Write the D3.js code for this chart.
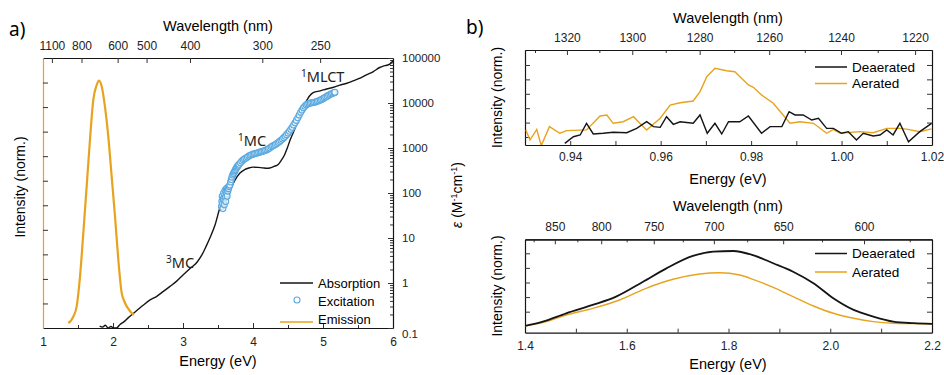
<!DOCTYPE html>
<html>
<head>
<meta charset="utf-8">
<script src="https://cdn.jsdelivr.net/npm/d3@7"></script>
<style>
    body { margin: 0; background: #fff; }
    svg { display: block; font-family: "Liberation Sans", Arial, sans-serif; }
    .tick text { fill: #222; }
    .note { font-family: "Noto Sans", sans-serif; font-size: 14.5px; fill: #222; }
</style>
</head>
<body>
<svg id="chart" width="944" height="375"></svg>
<script>
// hc in eV*nm, to convert wavelength ticks to energy
const HC = 1239.84;

// Panel a: absorption (log scale, M-1 cm-1)
const absE   = [1.81, 1.85, 1.89, 1.93, 1.97, 2.01, 2.05, 2.10, 2.15, 2.22, 2.29, 2.36, 2.43, 2.53, 2.62, 2.72, 2.81, 2.91, 3.00, 3.10,
                3.20, 3.27, 3.33, 3.39, 3.46, 3.53, 3.60, 3.67, 3.74, 3.81, 3.88, 3.94, 4.00, 4.07, 4.14, 4.20, 4.24, 4.30, 4.36, 4.40,
                4.45, 4.49, 4.53, 4.58, 4.63, 4.68, 4.72, 4.77, 4.81, 4.86, 4.96, 5.05, 5.15, 5.24, 5.34, 5.43, 5.53, 5.62, 5.72, 5.81,
                5.86, 5.91, 5.96, 5.98, 6.00];
const absEps = [0.11, 0.105, 0.115, 0.1, 0.108, 0.1, 0.1, 0.12, 0.135, 0.17, 0.21, 0.26, 0.32, 0.42, 0.5, 0.65, 0.83, 1.1, 1.5, 2.1,
                2.9, 4.2, 6.5, 10.5, 20, 48, 80, 115, 190, 275, 330, 360, 375, 372, 362, 355, 360, 390, 430, 520,
                700, 1000, 1500, 2300, 3600, 5800, 8500, 11600, 14500, 17000, 18600, 20500, 22400, 25000, 27500, 31000, 35600, 42000, 50000, 61500,
                66000, 69000, 74000, 80000, 88000];

// Panel a: excitation spectrum (same log scale)
const excE   = [3.55, 3.555, 3.56, 3.565, 3.57, 3.575, 3.58, 3.585, 3.59, 3.595, 3.60, 3.605, 3.61, 3.615, 3.62, 3.625, 3.63, 3.635, 3.64, 3.645,
                3.65, 3.66, 3.67, 3.68, 3.69, 3.70, 3.71, 3.72, 3.73, 3.74, 3.75, 3.76, 3.77, 3.78, 3.79, 3.80, 3.82, 3.84, 3.86, 3.88,
                3.90, 3.92, 3.94, 3.96, 3.98, 4.00, 4.02, 4.04, 4.06, 4.08, 4.10, 4.12, 4.14, 4.16, 4.18, 4.20, 4.22, 4.24, 4.26, 4.28,
                4.30, 4.32, 4.34, 4.36, 4.38, 4.40, 4.42, 4.44, 4.46, 4.48, 4.50, 4.52, 4.54, 4.56, 4.58, 4.60, 4.62, 4.64, 4.66, 4.68,
                4.70, 4.72, 4.74, 4.76, 4.78, 4.80, 4.82, 4.84, 4.86, 4.88, 4.90, 4.92, 4.94, 4.96, 4.98, 5.00, 5.02, 5.04, 5.06, 5.08,
                5.10, 5.12, 5.14, 5.16, 5.17];
const excVal = [50, 65, 85, 58, 45, 75, 100, 70, 55, 90, 115, 80, 65, 105, 125, 95, 85, 120, 110, 135,
                125, 140, 150, 175, 200, 225, 250, 270, 290, 310, 330, 355, 375, 395, 415, 435, 470, 510, 545, 575,
                600, 630, 660, 690, 710, 730, 745, 760, 775, 790, 810, 830, 850, 870, 890, 920, 960, 1000, 1070, 1110,
                1150, 1200, 1260, 1330, 1400, 1480, 1580, 1700, 1830, 1980, 2150, 2350, 2600, 2900, 3250, 3650, 4100, 4700, 5400, 6200,
                7000, 7800, 8500, 9100, 9500, 9800, 10000, 10100, 10200, 10400, 10600, 10900, 11200, 11600, 12000, 12500, 13000, 13600, 14200, 14800,
                15400, 16000, 16500, 17000, 17300];

// Panel a: emission (normalised)
const emE = [1.361, 1.40, 1.433, 1.481, 1.529, 1.576, 1.624, 1.671, 1.719, 1.767, 1.80, 1.839, 1.886, 1.933, 1.981, 2.029, 2.076, 2.124, 2.16, 2.196, 2.235, 2.267, 2.30];
const emI = [0.02, 0.03, 0.047, 0.088, 0.21, 0.387, 0.577, 0.767, 0.93, 0.99, 1.008, 0.984, 0.90, 0.78, 0.617, 0.454, 0.278, 0.143, 0.11, 0.088, 0.072, 0.061, 0.054];

// Panel b top: singlet oxygen region
const nirDeaerE = [0.9388, 0.9407, 0.9422, 0.9436, 0.9451, 0.9473, 0.9495, 0.9525, 0.9547, 0.9569, 0.9584, 0.9599, 0.9613, 0.9628, 0.9643,
                   0.9672, 0.9687, 0.9703, 0.972, 0.9735, 0.975, 0.9775, 0.9794, 0.9823, 0.9842, 0.9868, 0.9884, 0.9897, 0.9915, 0.9934,
                   0.9949, 0.9967, 0.9982, 1.0000, 1.0015, 1.0033, 1.0048, 1.0070, 1.0085, 1.0100, 1.0114, 1.0129, 1.0148, 1.0173, 1.0199];
const nirDeaerI = [-0.44, 0.02, 0.14, 0.95, 0.21, 0.26, 0.33, 0.30, 0.60, 1.06, 0.72, 0.67, 1.41, 0.88, 1.06,
                   0.95, 1.53, 0.26, 0.95, 0.21, 1.06, 1.06, 1.46, 0.26, 0.72, 0.72, 1.76, 1.53, 1.53, 1.18,
                   1.30, 0.60, 0.60, 0.26, 0.37, -0.21, 0.26, 0.07, 0.14, 0.49, 0.14, 0.95, -0.33, 0.37, 0.95];
const nirAerE = [0.9302, 0.9311, 0.9326, 0.9336, 0.9354, 0.9377, 0.9392, 0.9436, 0.9466, 0.9481, 0.9495, 0.9517, 0.954, 0.9554, 0.9569,
                 0.9599, 0.9621, 0.9643, 0.9672, 0.9687, 0.9702, 0.972, 0.9746, 0.9764, 0.9794, 0.9805, 0.9823, 0.9849, 0.9886, 0.9908,
                 0.9938, 0.9967, 0.9982, 0.9997, 1.0041, 1.0070, 1.0100, 1.0129, 1.0147, 1.0173, 1.0199];
const nirAerI = [0.49, -0.21, 0.53, -0.6, 0.72, 0.26, 0.44, 0.49, 1.46, 1.53, 0.95, 1.06, 1.41, 0.95, 0.49,
                 1.30, 2.22, 2.38, 2.50, 3.15, 4.19, 4.77, 4.60, 4.53, 3.61, 3.45, 2.92, 2.34, 0.95, 1.06,
                 0.95, 0.26, 0.53, 0.26, 0.37, 0.30, 0.60, 0.60, 0.53, 0.37, 0.56];

// Panel b bottom: phosphorescence
const visDeaerE = [1.40, 1.435, 1.481, 1.533, 1.579, 1.632, 1.678, 1.730, 1.770, 1.809, 1.848, 1.888, 1.927, 1.967, 2.006, 2.046, 2.085, 2.124, 2.164, 2.20];
const visDeaerI = [0.02, 0.32, 0.89, 1.46, 2.03, 3.05, 3.97, 4.82, 5.11, 5.16, 4.88, 4.32, 3.74, 2.95, 1.92, 1.12, 0.66, 0.32, 0.21, 0.16];
const visAerE = [1.40, 1.435, 1.481, 1.533, 1.586, 1.638, 1.691, 1.743, 1.783, 1.822, 1.848, 1.888, 1.927, 1.967, 2.006, 2.046, 2.085, 2.124, 2.164, 2.20];
const visAerI = [0.02, 0.25, 0.77, 1.23, 1.80, 2.60, 3.22, 3.58, 3.67, 3.51, 3.22, 2.67, 2.03, 1.39, 0.89, 0.55, 0.32, 0.21, 0.18, 0.16];

// tick labels
const wlTopA = [1100, 800, 600, 500, 400, 300, 250];
const epsTicks = [0.1, 1, 10, 100, 1000, 10000, 100000];
const wlNir = [1320, 1300, 1280, 1260, 1240, 1220];
const wlNirMinor = [1330, 1310, 1290, 1270, 1250, 1230];
const wlVis = [850, 800, 750, 700, 650, 600];
const wlVisMinor = [875, 825, 775, 725, 675, 625, 575];

const ORANGE = "#E8A31E";
const BLUE = "#5AA9E0";
const INK = "#151515";

const svg = d3.select("#chart");

function styleAxis(g, color) {
    g.select(".domain").attr("stroke", color || INK).attr("stroke-width", 1.2);
    g.selectAll(".tick line").attr("stroke", "#333");
    g.selectAll(".tick text").style("font-size", "12px");
    return g;
}

function addClip(id, x0, y0, x1, y1) {
    svg.append("clipPath").attr("id", id)
        .append("rect").attr("x", x0).attr("y", y0).attr("width", x1 - x0).attr("height", y1 - y0);
}

// ---------------- Panel a ----------------
const xA = d3.scaleLinear().domain([1, 6]).range([43, 393]);
const yEm = d3.scaleLinear().domain([0, 1.1]).range([328, 58]);
const yEps = d3.scaleLog().domain([0.1, 100000]).range([328, 58]);
addClip("clipA", 43, 58, 393, 328);

// bottom axis: energy
svg.append("g").attr("transform", "translate(0,328)")
    .call(d3.axisBottom(xA).tickValues(d3.range(1.5, 6, 1)).tickSize(-3).tickFormat(""))
    .call(g => g.select(".domain").remove())
    .selectAll(".tick line").attr("stroke", "#333");
styleAxis(svg.append("g").attr("transform", "translate(0,328)")
    .call(d3.axisBottom(xA).ticks(5).tickSize(-5).tickSizeOuter(0).tickPadding(9).tickFormat(d3.format("d"))));

// top axis: wavelength
styleAxis(svg.append("g").attr("transform", "translate(0,58)")
    .call(d3.axisTop(xA).tickValues(wlTopA.map(w => HC / w)).tickSize(-5).tickSizeOuter(0).tickPadding(8)
        .tickFormat((d, i) => wlTopA[i])));

// right axis: epsilon (log)
const epsMinor = [];
epsTicks.slice(0, -1).forEach(p => { for (let k = 2; k <= 9; k++) epsMinor.push(p * k); });
svg.append("g").attr("transform", "translate(393,0)")
    .call(d3.axisRight(yEps).tickValues(epsMinor).tickSize(-3).tickFormat(""))
    .call(g => g.select(".domain").remove())
    .selectAll(".tick line").attr("stroke", "#333");
const rightA = styleAxis(svg.append("g").attr("transform", "translate(393,0)")
    .call(d3.axisRight(yEps).tickValues(epsTicks).tickSize(-5).tickSizeOuter(0).tickPadding(9)
        .tickFormat(d => d < 1 ? "0.1" : d3.format("d")(d))));
rightA.selectAll(".tick text").style("font-size", "11.5px")
    .attr("dy", d => d < 1 ? "0.85em" : "0.32em");

// left axis: intensity, orange, no labels
styleAxis(svg.append("g").attr("transform", "translate(43,0)")
    .call(d3.axisLeft(yEm).tickValues(d3.range(0.1, 1.05, 0.1)).tickSize(-5).tickSizeOuter(0).tickFormat("")), ORANGE);

const plotA = svg.append("g").attr("clip-path", "url(#clipA)");
plotA.append("path")
    .datum(d3.zip(absE, absEps))
    .attr("fill", "none").attr("stroke", INK).attr("stroke-width", 1.4)
    .attr("d", d3.line().x(d => xA(d[0])).y(d => yEps(d[1])).curve(d3.curveMonotoneX));
plotA.append("path")
    .datum(d3.zip(emE, emI))
    .attr("fill", "none").attr("stroke", ORANGE).attr("stroke-width", 2.2)
    .attr("d", d3.line().x(d => xA(d[0])).y(d => yEm(d[1])).curve(d3.curveMonotoneX));
plotA.selectAll("circle.exc")
    .data(d3.zip(excE, excVal))
    .join("circle").attr("class", "exc")
    .attr("cx", d => xA(d[0])).attr("cy", d => yEps(d[1])).attr("r", 3)
    .attr("fill", "#fff").attr("fill-opacity", 0.6).attr("stroke", BLUE).attr("stroke-width", 1.1);

// annotations
function note(x, y, sup, main) {
    const t = svg.append("text").attr("class", "note").attr("x", x).attr("y", y);
    t.append("tspan").text(sup).style("font-size", "10px").attr("dy", -5);
    t.append("tspan").text(main).attr("dy", 5);
}
note(166, 268, "3", "MC");
note(238, 146, "1", "MC");
note(301, 82, "1", "MLCT");

// legend a
const legA = svg.append("g").style("font-size", "13px");
legA.append("line").attr("x1", 280).attr("x2", 313).attr("y1", 283).attr("y2", 283).attr("stroke", INK).attr("stroke-width", 1.5);
legA.append("text").attr("x", 318).attr("y", 283).attr("dy", "0.35em").text("Absorption");
legA.append("circle").attr("cx", 297).attr("cy", 300).attr("r", 3).attr("fill", "#fff").attr("stroke", BLUE).attr("stroke-width", 1.1);
legA.append("text").attr("x", 318).attr("y", 301).attr("dy", "0.35em").text("Excitation");
legA.append("line").attr("x1", 280).attr("x2", 313).attr("y1", 322).attr("y2", 322).attr("stroke", ORANGE).attr("stroke-width", 1.5);
legA.append("text").attr("x", 318).attr("y", 319).attr("dy", "0.35em").text("Emission");

// titles a
svg.append("text").attr("x", 218).attr("y", 31).attr("text-anchor", "middle").style("font-size", "14.5px").text("Wavelength (nm)");
svg.append("text").attr("x", 218).attr("y", 366).attr("text-anchor", "middle").style("font-size", "14.5px").text("Energy (eV)");
svg.append("text").attr("transform", "translate(25,187) rotate(-90)").attr("text-anchor", "middle").style("font-size", "14px").text("Intensity (norm.)");
const epsLab = svg.append("text").attr("transform", "translate(462,195) rotate(-90)").attr("text-anchor", "middle").style("font-size", "14px");
epsLab.append("tspan").text("ε").style("font-style", "italic");
epsLab.append("tspan").text(" (M");
epsLab.append("tspan").text("-1").style("font-size", "9px").attr("dy", -5);
epsLab.append("tspan").text("cm").attr("dy", 5);
epsLab.append("tspan").text("-1").style("font-size", "9px").attr("dy", -5);
epsLab.append("tspan").text(")").attr("dy", 5);
svg.append("text").attr("x", 9).attr("y", 36).style("font-family", "Noto Sans, sans-serif").style("font-size", "19px").text("a)");
svg.append("text").attr("x", 466).attr("y", 34).style("font-family", "Noto Sans, sans-serif").style("font-size", "19px").text("b)");

// ---------------- Panel b ----------------
function panelB(cfg) {
    const x = d3.scaleLinear().domain(cfg.xDomain).range([525, 932]);
    const y = d3.scaleLinear().domain(cfg.yDomain).range([cfg.bottom, cfg.top]);
    addClip(cfg.id, 525, cfg.top, 932, cfg.bottom);

    styleAxis(svg.append("g").attr("transform", `translate(0,${cfg.bottom})`)
        .call(d3.axisBottom(x).tickValues(cfg.xTicks).tickSize(-4).tickSizeOuter(0).tickPadding(cfg.padBottom)
            .tickFormat(d => cfg.xLabels.some(v => Math.abs(v - d) < 1e-9) ? cfg.fmt(d) : "")));
    styleAxis(svg.append("g").attr("transform", `translate(0,${cfg.top})`)
        .call(d3.axisTop(x).tickValues(cfg.wlMinor.map(w => HC / w)).tickSize(-3).tickSizeOuter(0).tickFormat("")));
    styleAxis(svg.append("g").attr("transform", `translate(0,${cfg.top})`)
        .call(d3.axisTop(x).tickValues(cfg.wl.map(w => HC / w)).tickSize(-5).tickSizeOuter(0).tickPadding(8)
            .tickFormat((d, i) => cfg.wl[i])));
    styleAxis(svg.append("g").attr("transform", "translate(525,0)")
        .call(d3.axisLeft(y).tickValues(cfg.yTicks).tickSize(-5).tickSizeOuter(0).tickFormat("")));
    styleAxis(svg.append("g").attr("transform", "translate(932,0)")
        .call(d3.axisRight(y).tickValues(cfg.yTicks).tickSize(-5).tickSizeOuter(0).tickFormat("")));

    const line = d3.line().x(d => x(d[0])).y(d => y(d[1]));
    const plot = svg.append("g").attr("clip-path", `url(#${cfg.id})`);
    plot.append("path").datum(d3.zip(cfg.aerE, cfg.aerI))
        .attr("fill", "none").attr("stroke", ORANGE).attr("stroke-width", 1.4)
        .attr("d", cfg.smooth ? line.curve(d3.curveMonotoneX) : line);
    plot.append("path").datum(d3.zip(cfg.deaE, cfg.deaI))
        .attr("fill", "none").attr("stroke", INK).attr("stroke-width", cfg.smooth ? 1.8 : 1.4)
        .attr("d", cfg.smooth ? line.curve(d3.curveMonotoneX) : line);

    const leg = svg.append("g").style("font-size", "13.5px");
    leg.append("line").attr("x1", 815).attr("x2", 847).attr("y1", cfg.legY[0]).attr("y2", cfg.legY[0]).attr("stroke", INK).attr("stroke-width", 1.5);
    leg.append("text").attr("x", 852).attr("y", cfg.legY[0]).attr("dy", "0.35em").text("Deaerated");
    leg.append("line").attr("x1", 815).attr("x2", 847).attr("y1", cfg.legY[1]).attr("y2", cfg.legY[1]).attr("stroke", ORANGE).attr("stroke-width", 1.5);
    leg.append("text").attr("x", 852).attr("y", cfg.legY[1]).attr("dy", "0.35em").text("Aerated");

    svg.append("text").attr("x", 728).attr("y", cfg.wlTitleY).attr("text-anchor", "middle").style("font-size", "14.5px").text("Wavelength (nm)");
    svg.append("text").attr("x", 728).attr("y", cfg.eTitleY).attr("text-anchor", "middle").style("font-size", "14.5px").text("Energy (eV)");
    svg.append("text").attr("transform", `translate(502,${(cfg.top + cfg.bottom) / 2}) rotate(-90)`)
        .attr("text-anchor", "middle").style("font-size", "14px").text("Intensity (norm.)");
}

panelB({
    id: "clipB1", top: 50, bottom: 145,
    xDomain: [0.93, 1.02], yDomain: [-0.556, 6.04], yTicks: d3.range(0, 6),
    xTicks: d3.range(0.94, 1.0201, 0.01), xLabels: [0.94, 0.96, 0.98, 1.00, 1.02], fmt: d3.format(".2f"), padBottom: 7,
    wl: wlNir, wlMinor: wlNirMinor,
    deaE: nirDeaerE, deaI: nirDeaerI, aerE: nirAerE, aerI: nirAerI, smooth: false,
    legY: [67, 83.5], wlTitleY: 23, eTitleY: 184
});

panelB({
    id: "clipB2", top: 239.3, bottom: 332.7,
    xDomain: [1.4, 2.2], yDomain: [-0.44, 5.96], yTicks: d3.range(1, 6),
    xTicks: d3.range(1.4, 2.2001, 0.1), xLabels: [1.4, 1.6, 1.8, 2.0, 2.2], fmt: d3.format(".1f"), padBottom: 9,
    wl: wlVis, wlMinor: wlVisMinor,
    deaE: visDeaerE, deaI: visDeaerI, aerE: visAerE, aerI: visAerI, smooth: true,
    legY: [253.5, 272], wlTitleY: 211, eTitleY: 369
});
</script>
</body>
</html>
